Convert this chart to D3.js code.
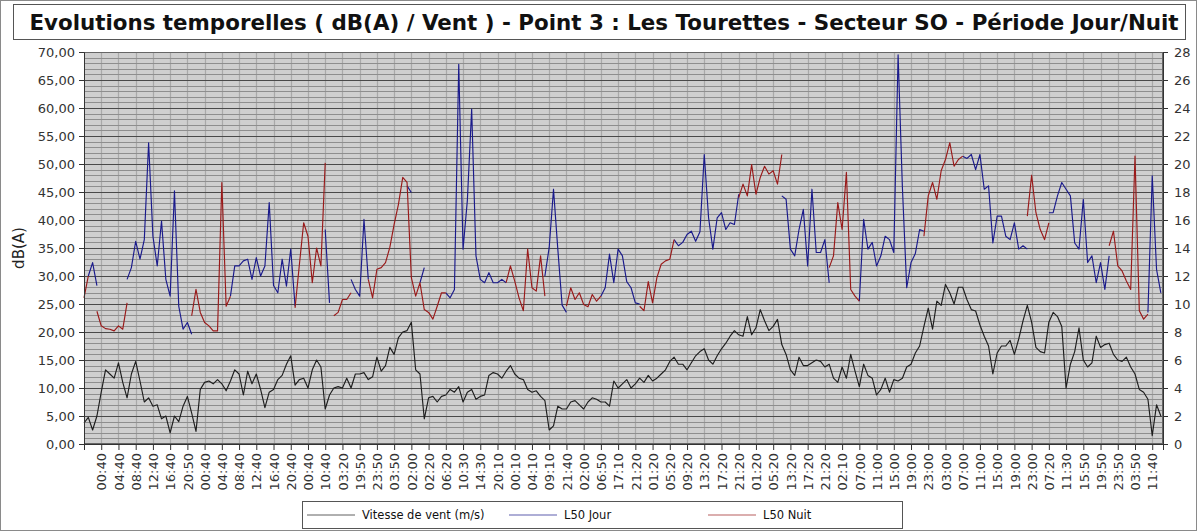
<!DOCTYPE html>
<html><head><meta charset="utf-8">
<script src="https://cdn.jsdelivr.net/npm/d3@7"></script>
<style>
body{margin:0;background:#fff}
svg{display:block}
text{font-family:"DejaVu Sans",sans-serif}
</style>
</head><body>
<svg id="chart" width="1197" height="531"></svg>
<script>
// ---------------- DATA ----------------
const chartTitle = "Evolutions temporelles ( dB(A) / Vent ) - Point 3 : Les Tourettes - Secteur SO - Période Jour/Nuit";
const yAxisTitle = "dB(A)";
const seriesNames = ["Vitesse de vent (m/s)", "L50 Jour", "L50 Nuit"];
const leftTicks = [0,5,10,15,20,25,30,35,40,45,50,55,60,65,70];
const rightTicks = [0,2,4,6,8,10,12,14,16,18,20,22,24,26,28];
const xTickLabels = ["00:40","04:40","08:40","12:40","16:40","20:50","00:40","04:40","08:40","12:40",
  "16:40","20:40","00:40","10:40","03:20","19:50","23:50","03:50","02:00","02:20",
  "06:20","10:30","14:30","20:10","00:10","04:10","09:10","21:40","02:00","06:50",
  "17:10","21:20","01:20","05:20","09:20","13:20","17:20","21:20","01:20","05:20",
  "13:20","17:20","21:20","02:10","07:00","11:00","15:00","19:00","23:00","03:00",
  "07:00","11:00","15:00","19:00","23:00","07:20","11:30","15:50","19:50","23:50",
  "03:50","11:40"];
// 10-min records: one sample every 6 records, one labelled tick every 24 records
const RECORDS_PER_SAMPLE = 6, RECORDS_PER_TICK = 24, TOTAL_RECORDS = 1503;

const windSpeed = [
1.5,1.9,1.0,2.0,3.7,5.3,5.0,4.7,5.8,4.4,
3.3,5.0,5.9,4.5,3.0,3.3,2.7,2.8,1.8,2.0,
0.8,2.0,1.6,2.7,3.4,2.2,0.9,3.9,4.4,4.5,
4.3,4.6,4.3,3.8,4.5,5.3,5.0,3.5,5.2,4.3,
5.0,3.9,2.6,3.7,3.9,4.6,4.9,5.7,6.3,4.2,
4.6,4.7,4.0,5.3,6.0,5.5,2.5,3.5,4.0,4.1,
4.0,4.7,4.0,5.0,5.0,5.1,4.6,4.8,6.2,5.2,
5.6,6.9,6.4,7.6,8.0,8.1,8.7,5.3,5.0,1.8,
3.3,3.4,3.0,3.4,3.5,3.9,3.7,4.1,3.0,3.7,
3.9,3.2,3.4,3.5,4.9,5.1,5.0,4.7,5.2,5.6,
5.0,4.7,4.6,3.9,3.7,3.8,3.4,3.1,1.0,1.3,
2.7,2.5,2.5,3.0,3.1,2.8,2.5,3.0,3.3,3.2,
3.0,3.0,2.7,4.5,4.0,4.3,4.6,4.0,4.3,4.7,
4.4,4.9,4.5,4.7,5.0,5.3,5.9,6.2,5.7,5.7,
5.3,5.8,6.3,6.6,6.8,6.0,5.7,6.3,6.8,7.2,
7.7,8.1,7.8,7.7,9.1,7.8,8.3,9.6,8.8,8.1,
8.4,8.9,7.1,6.4,5.3,4.9,6.2,5.6,5.6,5.8,
6.0,5.9,5.5,5.7,4.7,4.4,5.5,4.7,6.4,5.2,
4.1,5.7,4.9,4.7,3.5,3.9,4.7,3.7,4.6,4.5,
4.7,5.5,5.7,6.5,7.0,8.4,9.7,8.2,10.2,9.9,
11.4,10.8,10.0,11.2,11.2,10.3,9.6,9.5,8.5,7.7,
7.0,5.0,6.5,7.0,7.0,7.4,6.4,7.5,8.8,9.9,
8.7,6.9,6.6,6.5,8.7,9.4,9.1,8.4,4.0,5.7,
6.6,8.3,6.0,5.5,5.8,7.7,6.9,7.1,7.2,6.4,
6.0,5.9,6.2,5.5,5.0,3.9,3.7,3.2,0.6,2.8,
2.0];

const l50Jour = [
null,30.0,32.4,28.3,null,null,null,null,null,null,
29.4,31.5,36.2,33.0,36.5,53.8,37.1,31.8,39.8,29.4,
26.4,45.2,24.6,20.5,21.7,19.6,null,null,null,null,
null,null,null,null,26.4,31.8,31.8,32.7,33.0,29.4,
33.3,30.0,31.8,43.1,28.3,27.0,33.0,28.2,34.8,24.6,
null,null,null,null,null,null,38.3,25.2,null,null,
null,null,29.4,27.6,26.4,40.1,29.4,null,null,null,
null,null,null,null,null,46.1,44.9,null,28.8,31.5,
null,null,null,null,27.0,26.1,27.6,67.8,34.8,43.5,
59.8,33.6,29.4,28.8,30.6,28.8,28.8,29.4,28.8,null,
null,null,null,null,null,null,null,30.0,35.1,45.5,
34.8,24.8,23.5,null,null,null,null,null,null,null,
26.4,27.9,33.9,28.8,34.8,33.6,29.0,27.9,25.2,25.0,
null,null,null,null,null,null,null,36.5,35.4,36.0,
37.4,38.0,36.2,37.9,51.7,40.4,34.8,40.4,41.3,38.3,
39.5,39.2,44.6,null,null,null,null,null,null,null,
null,null,44.3,43.7,34.8,33.6,38.3,41.9,31.8,45.5,
34.2,34.2,36.5,28.8,null,null,null,null,null,null,
25.5,40.1,34.8,36.0,31.8,33.6,37.1,36.5,34.2,69.5,
45.8,27.9,32.4,34.0,38.3,38.0,null,null,null,null,
null,null,null,null,51.4,51.0,51.7,49.0,51.7,45.5,
46.1,35.9,40.7,40.7,37.1,36.5,39.5,34.8,35.4,34.8,
null,null,null,null,41.3,41.3,44.3,46.7,45.5,44.3,
35.9,34.8,43.7,32.4,33.6,28.8,32.4,27.6,33.6,null,
null,null,null,null,null,null,null,23.5,47.9,31.2,
27.0];

const l50Nuit = [
26.1,30.0,null,23.7,21.1,20.6,20.5,20.2,21.1,20.5,
25.2,null,null,null,null,null,null,null,null,null,
null,null,null,null,null,22.9,27.6,23.5,21.7,21.1,
20.2,20.2,46.7,24.6,26.4,null,null,null,null,null,
null,null,null,null,null,null,null,null,null,24.3,
32.0,39.5,37.1,28.8,35.0,31.8,50.2,null,22.9,23.5,
25.8,25.8,27.0,null,null,null,29.4,26.1,31.2,31.5,
32.4,35.1,39.2,42.8,47.6,46.7,29.7,26.4,28.8,24.0,
23.5,22.3,24.6,27.0,27.0,null,null,null,null,null,
null,null,null,null,null,null,null,null,28.8,31.8,
29.1,26.1,23.8,34.8,27.9,27.3,33.6,26.4,null,null,
null,null,24.6,27.9,25.8,27.0,24.9,24.5,26.7,25.5,
26.4,null,null,null,null,null,null,null,null,24.6,
23.8,29.0,25.2,29.7,32.1,32.7,33.0,36.5,null,null,
null,null,null,null,null,null,null,null,null,null,
null,null,44.0,46.4,44.3,49.9,44.6,47.6,49.6,48.2,
48.8,46.4,51.7,null,null,null,null,null,null,null,
null,null,null,31.5,33.6,43.1,38.3,48.5,27.6,26.4,
25.5,null,null,null,null,null,null,null,null,null,
null,null,null,null,null,37.1,44.3,46.7,43.7,48.8,
50.8,53.8,49.6,50.8,51.4,null,null,null,null,null,
null,null,null,null,null,null,null,null,null,40.7,
48.0,41.3,38.3,36.5,39.5,null,null,null,null,null,
null,null,null,null,null,null,null,null,35.4,38.0,
31.8,30.9,29.1,27.6,51.4,23.8,22.3,23.2,null,null,
null];

// ---------------- DRAWING ----------------
const svg = d3.select("#chart");
const W = 1197, H = 531;
const P = {left: 84, right: 1163, top: 52, bottom: 444};
const colors = {wind: "#1e1e1e", jour: "#1a1a8c", nuit: "#9a1a1a"};

// outer frame
svg.append("rect").attr("x", 0.5).attr("y", 0.5).attr("width", W - 1).attr("height", H - 1)
  .attr("fill", "#fff").attr("stroke", "#8a8a8a");

// title box
svg.append("rect").attr("x", 13.5).attr("y", 4.5).attr("width", 1172).attr("height", 35)
  .attr("fill", "#fff").attr("stroke", "#555");
svg.append("text").attr("x", 604).attr("y", 30).attr("text-anchor", "middle")
  .attr("font-size", 21.4).attr("font-weight", "bold").attr("fill", "#111").text(chartTitle);

const x = d3.scaleLinear().domain([0, TOTAL_RECORDS]).range([P.left, P.right]);
const y = d3.scaleLinear().domain([0, 70]).range([P.bottom, P.top]);
const y2 = d3.scaleLinear().domain([0, 28]).range([P.bottom, P.top]);

// plot background
svg.append("rect").attr("x", P.left).attr("y", P.top).attr("width", P.right - P.left)
  .attr("height", P.bottom - P.top).attr("fill", "#cfcfcf");

const tickRecords = d3.range(0, xTickLabels.length + 1).map(k => k * RECORDS_PER_TICK);

// vertical grid
svg.append("g").selectAll("line").data(tickRecords.slice(1)).join("line")
  .attr("x1", d => Math.round(x(d)) + 0.5).attr("x2", d => Math.round(x(d)) + 0.5)
  .attr("y1", P.top).attr("y2", P.bottom).attr("stroke", "#a9a9a9").attr("stroke-width", 1.2);

// horizontal grid: minor every 1 dB, major every 5 dB
const minor = d3.range(1, 70).filter(v => v % 5 !== 0);
svg.append("g").selectAll("line").data(minor).join("line")
  .attr("x1", P.left).attr("x2", P.right)
  .attr("y1", d => Math.round(y(d)) + 0.5).attr("y2", d => Math.round(y(d)) + 0.5)
  .attr("stroke", "#8e8e8e").attr("stroke-width", 1);
svg.append("g").selectAll("line").data(leftTicks.filter(v => v > 0 && v < 70)).join("line")
  .attr("x1", P.left).attr("x2", P.right)
  .attr("y1", d => Math.round(y(d)) + 0.5).attr("y2", d => Math.round(y(d)) + 0.5)
  .attr("stroke", "#4a4a4a").attr("stroke-width", 1);

// series
const sx = (d, i) => x(i * RECORDS_PER_SAMPLE);
const lineL = d3.line().defined(d => d != null).x(sx).y(d => y(d));
const lineR = d3.line().defined(d => d != null).x(sx).y(d => y2(d));
const g = svg.append("g").attr("fill", "none").attr("stroke-width", 1.15).attr("stroke-linejoin", "round");
g.append("path").attr("d", lineR(windSpeed)).attr("stroke", colors.wind);
g.append("path").attr("d", lineL(l50Jour)).attr("stroke", colors.jour);
g.append("path").attr("d", lineL(l50Nuit)).attr("stroke", colors.nuit);

// plot frame
svg.append("rect").attr("x", P.left + 0.5).attr("y", P.top + 0.5).attr("width", P.right - P.left - 1)
  .attr("height", P.bottom - P.top - 1).attr("fill", "none").attr("stroke", "#666");

// axes
const fmt = d => d.toFixed(2).replace(".", ",");
const axL = svg.append("g").attr("transform", `translate(${P.left},0)`)
  .call(d3.axisLeft(y).tickValues(leftTicks).tickFormat(fmt).tickSize(5).tickPadding(4));
const axR = svg.append("g").attr("transform", `translate(${P.right},0)`)
  .call(d3.axisRight(y2).tickValues(rightTicks).tickFormat(d3.format("d")).tickSize(5).tickPadding(6));
const axB = svg.append("g").attr("transform", `translate(0,${P.bottom})`)
  .call(d3.axisBottom(x).tickValues(tickRecords).tickSize(6)
    .tickFormat((d, i) => i === 0 ? "" : xTickLabels[i - 1]));
axB.selectAll("text").attr("transform", "rotate(-90)").attr("x", -9).attr("y", 0)
  .attr("dy", "0.36em").style("text-anchor", "end");
[axL, axR, axB].forEach(a => {
  a.selectAll("text").attr("font-size", 13).attr("font-family", "DejaVu Sans").attr("fill", "#333");
  a.selectAll("line").attr("stroke", "#333");
  a.select(".domain").attr("stroke", "#333");
});

// y-axis title
svg.append("text").attr("transform", `translate(24,${(P.top + P.bottom) / 2}) rotate(-90)`)
  .attr("text-anchor", "middle").attr("font-size", 15).attr("fill", "#222").text(yAxisTitle);

// legend
const L = {x: 302, y: 501, w: 600, h: 27};
svg.append("rect").attr("x", L.x + 0.5).attr("y", L.y + 0.5).attr("width", L.w).attr("height", L.h)
  .attr("fill", "#fff").attr("stroke", "#555");
const legendX = [307, 509, 708];
const legendColors = [colors.wind, colors.jour, colors.nuit];
seriesNames.forEach((name, k) => {
  svg.append("line").attr("x1", legendX[k]).attr("x2", legendX[k] + 48)
    .attr("y1", 515).attr("y2", 515).attr("stroke", legendColors[k]).attr("stroke-width", 1).attr("opacity", 0.7);
  svg.append("text").attr("x", legendX[k] + 55).attr("y", 519).attr("font-size", 11.5)
    .attr("fill", "#111").text(name);
});
</script>
</body></html>
